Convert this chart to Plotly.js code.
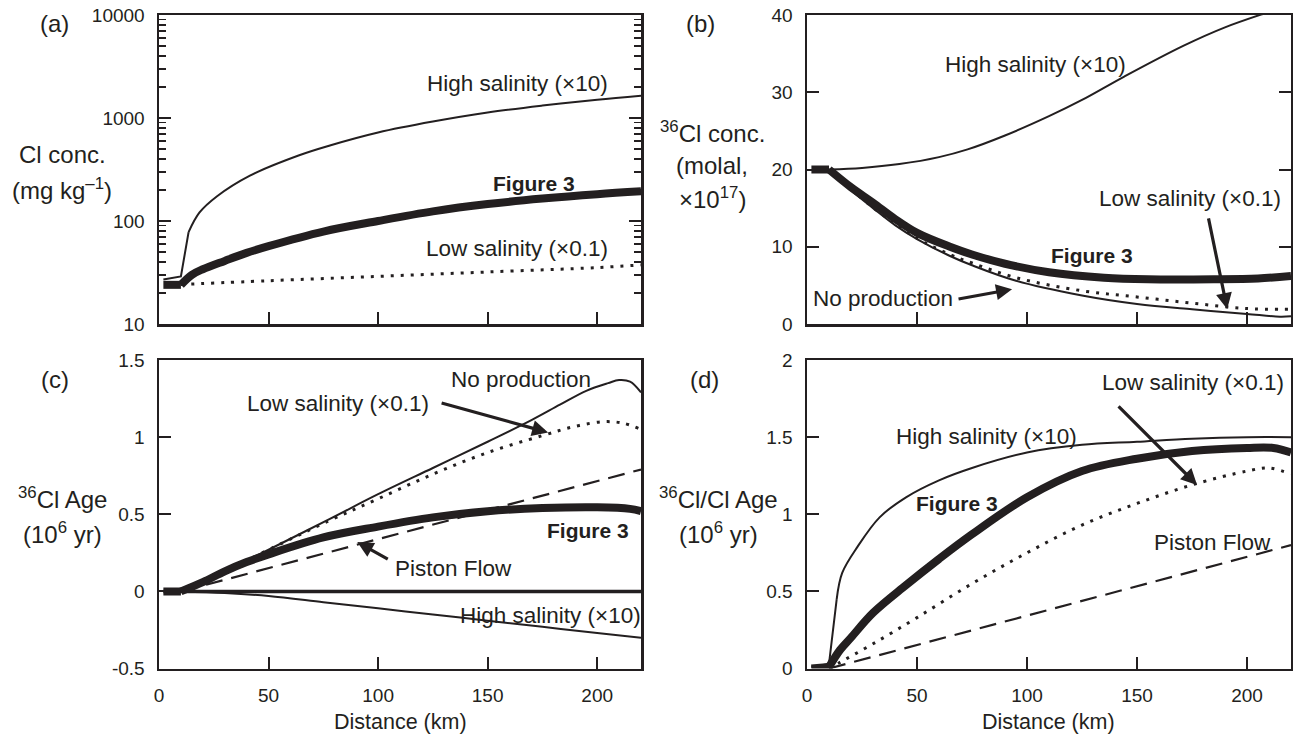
<!DOCTYPE html>
<html>
<head>
<meta charset="utf-8">
<script src="https://cdn.plot.ly/plotly-3.0.1.min.js"></script>
<style>html,body{margin:0;padding:0;background:#fff;}#chart{width:1293px;height:741px;}</style>
</head>
<body>
<div id="chart"></div>
<script>
// ---------- Panel (a): Cl conc. (mg/kg) ----------
const a_fig3_x = [2, 10, 15, 20, 30, 40, 50, 75, 100, 125, 150, 175, 200, 220];
const a_fig3_y = [24, 24, 30, 34, 41, 49, 57, 79, 100, 124, 146, 165, 182, 194];
const a_high_x = [2, 10, 13.5, 18.5, 26.5, 41.5, 64, 78, 100, 125, 150, 175, 200, 220];
const a_high_y = [27, 29, 78, 121, 174, 276, 435, 541, 723, 923, 1130, 1320, 1507, 1648];
const a_low_x = [10, 50, 100, 150, 200, 220];
const a_low_y = [24.2, 26.3, 29, 32, 35.3, 37.5];

// ---------- Panel (b): 36Cl conc. (molal, x1e17) ----------
const b_fig3_x = [2, 10, 20, 30, 40, 50, 65, 75, 90, 110, 135, 155, 185, 205, 220];
const b_fig3_y = [20, 20, 17.7, 15.7, 13.6, 11.8, 10.0, 9.0, 7.8, 6.7, 6.0, 5.8, 5.8, 5.9, 6.2];
const b_noprod_x = [10, 20, 30, 40, 50, 65, 75, 95, 125, 150, 175, 200, 215, 220];
const b_noprod_y = [20, 17.3, 15.0, 12.8, 11.0, 8.8, 7.6, 5.6, 3.7, 2.6, 1.9, 1.3, 0.95, 1.0];
const b_low_x = [10, 30, 50, 65, 75, 95, 125, 150, 175, 200, 220];
const b_low_y = [20, 15.1, 11.1, 9.0, 7.9, 6.0, 4.3, 3.5, 2.7, 2.0, 1.9];
const b_high_x = [10, 25, 42, 60, 73, 90, 110, 125, 144, 171, 190, 209, 220];
const b_high_y = [20, 20.2, 20.7, 21.6, 22.6, 24.4, 26.9, 29.0, 32.0, 36.0, 38.4, 40.3, 41.3];

// ---------- Panel (c): 36Cl Age (1e6 yr) ----------
const c_fig3_x = [2, 10, 20, 30, 40, 50, 75, 100, 125, 150, 175, 200, 215, 220];
const c_fig3_y = [0, 0, 0.06, 0.13, 0.19, 0.24, 0.35, 0.42, 0.48, 0.52, 0.54, 0.545, 0.535, 0.52];
const c_noprod_x = [10, 30, 50, 78, 100, 125, 150, 170, 183, 195, 205, 210, 215, 220];
const c_noprod_y = [0, 0.13, 0.27, 0.47, 0.63, 0.80, 0.97, 1.11, 1.21, 1.30, 1.35, 1.37, 1.36, 1.29];
const c_low_x = [10, 30, 50, 78, 100, 125, 150, 175, 190, 203, 212, 220];
const c_low_y = [0, 0.13, 0.27, 0.46, 0.60, 0.76, 0.90, 1.01, 1.07, 1.10, 1.09, 1.05];
const c_piston_x = [10, 220];
const c_piston_y = [0, 0.79];
const c_zero_x = [2, 220];
const c_zero_y = [0, 0];
const c_high_x = [10, 30, 50, 75, 100, 125, 150, 175, 200, 220];
const c_high_y = [0, -0.01, -0.03, -0.07, -0.11, -0.15, -0.19, -0.23, -0.27, -0.30];

// ---------- Panel (d): 36Cl/Cl Age (1e6 yr) ----------
const d_fig3_x = [2, 10, 15, 20, 30, 45, 60, 75, 100, 125, 150, 175, 200, 212, 220];
const d_fig3_y = [0, 0.01, 0.12, 0.2, 0.36, 0.54, 0.71, 0.87, 1.11, 1.28, 1.36, 1.41, 1.43, 1.43, 1.40];
const d_high_x = [2, 10, 13.5, 16, 23, 33, 45, 60, 75, 100, 125, 150, 175, 200, 220];
const d_high_y = [0.01, 0.03, 0.45, 0.62, 0.79, 0.98, 1.11, 1.22, 1.30, 1.40, 1.45, 1.47, 1.49, 1.50, 1.50];
const d_low_x = [10, 15, 30, 50, 75, 100, 125, 150, 175, 200, 210, 220];
const d_low_y = [0, 0.04, 0.16, 0.33, 0.55, 0.75, 0.93, 1.07, 1.19, 1.28, 1.30, 1.26];
const d_piston_x = [10, 220];
const d_piston_y = [0, 0.8];

// ---------- Tick labels ----------
const distTicks = [0, 50, 100, 150, 200];
const aTicks = [10, 100, 1000, 10000];
const aMinor = [20,30,40,50,60,70,80,90,200,300,400,500,600,700,800,900,2000,3000,4000,5000,6000,7000,8000,9000];
const bTicks = [0, 10, 20, 30, 40];
const cTicks = [-0.5, 0, 0.5, 1, 1.5];
const cTickText = ['-0.5', '0', '0.5', '1', '1.5'];
const dTicks = [0, 0.5, 1, 1.5, 2];
const dTickText = ['0', '0.5', '1', '1.5', '2'];

const INK = '#231f20';
const FONT = 'Liberation Sans, Arial, Helvetica, sans-serif';
const THICK = {color: INK, width: 8};
const THIN = {color: INK, width: 2};
const DOT = {color: INK, width: 3, dash: '3px,7px'};
const DASH = {color: INK, width: 2.2, dash: '17px,9px'};
const ZERO = {color: INK, width: 3.5};

// A curve: straight segments up to index k (sharp corners), smooth spline after it.
function curve(x, y, line, xa, ya, k) {
  const out = [];
  k = k || 0;
  if (k > 0) {
    out.push({type: 'scatter', mode: 'lines', x: x.slice(0, k + 1), y: y.slice(0, k + 1),
      line: Object.assign({}, line, {shape: 'linear'}), xaxis: xa, yaxis: ya, hoverinfo: 'skip'});
  }
  out.push({type: 'scatter', mode: 'lines', x: x.slice(k), y: y.slice(k),
    line: Object.assign({}, line, {shape: 'spline', smoothing: 1}), xaxis: xa, yaxis: ya, hoverinfo: 'skip'});
  return out;
}
function straight(x, y, line, xa, ya) {
  return [{type: 'scatter', mode: 'lines', x: x, y: y, line: line, xaxis: xa, yaxis: ya, hoverinfo: 'skip'}];
}

const data = [].concat(
  curve(a_low_x, a_low_y, DOT, 'x', 'y'),
  curve(a_high_x, a_high_y, THIN, 'x', 'y', 2),
  curve(a_fig3_x, a_fig3_y, THICK, 'x', 'y', 1),

  curve(b_high_x, b_high_y, THIN, 'x2', 'y2'),
  curve(b_low_x, b_low_y, DOT, 'x2', 'y2'),
  curve(b_noprod_x, b_noprod_y, THIN, 'x2', 'y2'),
  curve(b_fig3_x, b_fig3_y, THICK, 'x2', 'y2', 1),

  curve(c_high_x, c_high_y, THIN, 'x3', 'y3'),
  straight(c_zero_x, c_zero_y, ZERO, 'x3', 'y3'),
  straight(c_piston_x, c_piston_y, DASH, 'x3', 'y3'),
  curve(c_low_x, c_low_y, DOT, 'x3', 'y3'),
  curve(c_noprod_x, c_noprod_y, THIN, 'x3', 'y3'),
  curve(c_fig3_x, c_fig3_y, THICK, 'x3', 'y3', 1),

  straight(d_piston_x, d_piston_y, DASH, 'x4', 'y4'),
  curve(d_low_x, d_low_y, DOT, 'x4', 'y4'),
  curve(d_high_x, d_high_y, THIN, 'x4', 'y4', 2),
  curve(d_fig3_x, d_fig3_y, THICK, 'x4', 'y4', 1)
);

const W = 1293, H = 741;
const XL = [159 / W, 641 / W];
const XR = [807 / W, 1291 / W];
const YT = [1 - 324 / H, 1 - 15 / H];
const YB = [1 - 668.5 / H, 1 - 360 / H];

function xax(domain, anchor, labels) {
  return {
    domain: domain, anchor: anchor, range: [0, 220],
    tickmode: 'array', tickvals: distTicks, ticktext: distTicks.map(String),
    showticklabels: labels, ticks: 'inside', ticklen: 12, tickwidth: 2, tickcolor: INK,
    showline: true, linewidth: 2.5, linecolor: INK, mirror: true,
    showgrid: false, zeroline: false, fixedrange: true,
    tickfont: {family: FONT, size: 19, color: INK}, ticklabelstandoff: 8
  };
}
function yax(domain, anchor, vals, text, mirror) {
  return {
    domain: domain, anchor: anchor,
    tickmode: 'array', tickvals: vals, ticktext: text,
    ticks: 'inside', ticklen: 12, tickwidth: 2, tickcolor: INK,
    showline: true, linewidth: 2.5, linecolor: INK, mirror: mirror,
    showgrid: false, zeroline: false, fixedrange: true,
    tickfont: {family: FONT, size: 19, color: INK}, ticklabelstandoff: 8
  };
}

const ya = yax(YT, 'x', aTicks, aTicks.map(String), 'ticks');
ya.type = 'log';
ya.range = [1, 4];
ya.minor = {tickmode: 'array', tickvals: aMinor, ticks: 'inside', ticklen: 7, tickwidth: 1.5, tickcolor: INK, showgrid: false};
const yb = yax(YT, 'x2', bTicks, bTicks.map(String), 'ticks');
yb.range = [0, 40];
const yc = yax(YB, 'x3', cTicks, cTickText, true);
yc.range = [-0.5, 1.5];
const yd = yax(YB, 'x4', dTicks, dTickText, true);
yd.range = [0, 2];

function txt(px, py, text, size, bold) {
  return {
    xref: 'paper', yref: 'paper', x: px / W, y: 1 - py / H,
    text: bold ? '<b>' + text + '</b>' : text, showarrow: false,
    xanchor: 'center', yanchor: 'middle',
    font: {family: FONT, size: size, color: INK}
  };
}
function arrow(xr, yr, x, y, ax, ay) {
  return {
    xref: xr, yref: yr, x: x, y: y, ax: ax, ay: ay, text: '',
    showarrow: true, arrowhead: 2, arrowsize: 1, arrowwidth: 3.2, arrowcolor: INK
  };
}

const LBL = 22.5, TTL = 24, PNL = 24, BLD = 21;
const annotations = [
  // panel labels
  txt(54, 24, '(a)', PNL), txt(701, 24, '(b)', PNL), txt(55, 380, '(c)', PNL), txt(704, 380, '(d)', PNL),
  // y titles
  txt(62, 155, 'Cl conc.', TTL), txt(62, 189, '(mg kg<sup>–1</sup>)', TTL),
  txt(712, 132, '<sup>36</sup>Cl conc.', TTL), txt(712, 165, '(molal,', TTL), txt(712, 198, '×10<sup>17</sup>)', TTL),
  txt(62, 498, '<sup>36</sup>Cl Age', TTL), txt(62, 533, '(10<sup>6</sup> yr)', TTL),
  txt(718, 498, '<sup>36</sup>Cl/Cl Age', TTL), txt(718, 533, '(10<sup>6</sup> yr)', TTL),
  // x titles
  txt(400, 722, 'Distance (km)', 21.5), txt(1048, 722, 'Distance (km)', 21.5),
  // panel (a)
  txt(517, 84, 'High salinity (×10)', LBL), txt(534, 183, 'Figure 3', BLD, true), txt(517, 248, 'Low salinity (×0.1)', LBL),
  // panel (b)
  txt(1035, 64, 'High salinity (×10)', LBL), txt(1190, 198, 'Low salinity (×0.1)', LBL),
  txt(1092, 255, 'Figure 3', BLD, true), txt(883, 298, 'No production', LBL),
  arrow('x2', 'y2', 93.2, 4.5, -55, 10),
  arrow('x2', 'y2', 191, 1.95, -19, -92),
  // panel (c)
  txt(521, 380, 'No production', LBL), txt(338, 403, 'Low salinity (×0.1)', LBL),
  txt(588, 530, 'Figure 3', BLD, true), txt(453, 568, 'Piston Flow', LBL),
  txt(550, 615, 'High salinity (×10)', LBL),
  arrow('x3', 'y3', 177.6, 1.03, -108, -30),
  arrow('x3', 'y3', 90.5, 0.32, 32, 18),
  // panel (d)
  txt(986, 436, 'High salinity (×10)', LBL), txt(957, 503, 'Figure 3', BLD, true),
  txt(1193, 382, 'Low salinity (×0.1)', LBL), txt(1212, 542, 'Piston Flow', LBL),
  arrow('x4', 'y4', 177.3, 1.19, -80, -80)
];

const layout = {
  width: W, height: H,
  margin: {l: 0, r: 0, t: 0, b: 0, pad: 0},
  paper_bgcolor: '#ffffff', plot_bgcolor: '#ffffff',
  showlegend: false,
  font: {family: FONT, color: INK},
  xaxis: xax(XL, 'y', false), yaxis: ya,
  xaxis2: xax(XR, 'y2', false), yaxis2: yb,
  xaxis3: xax(XL, 'y3', true), yaxis3: yc,
  xaxis4: xax(XR, 'y4', true), yaxis4: yd,
  annotations: annotations
};

Plotly.newPlot('chart', data, layout, {displayModeBar: false, staticPlot: true});
</script>
</body>
</html>
